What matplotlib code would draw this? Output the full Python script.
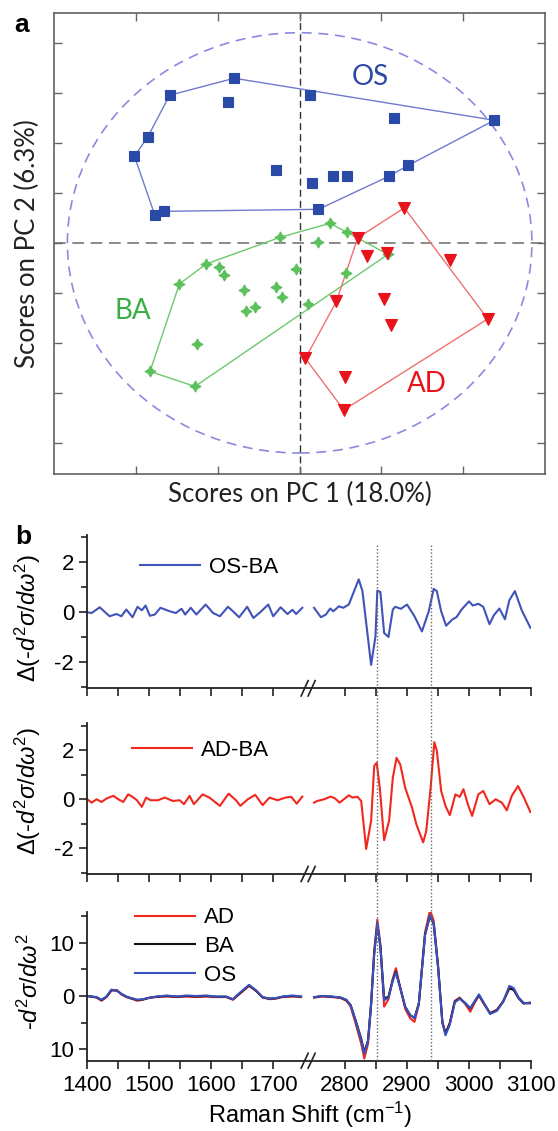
import matplotlib

matplotlib.use("Agg")
import matplotlib.pyplot as plt
import numpy as np
from matplotlib import transforms
from matplotlib.lines import Line2D
from matplotlib.patches import Ellipse

plt.rcParams["font.family"] = ["Liberation Sans", "DejaVu Sans"]
plt.rcParams["mathtext.fontset"] = "custom"
plt.rcParams["mathtext.rm"] = "Liberation Sans"
plt.rcParams["mathtext.it"] = "Liberation Sans:italic"
plt.rcParams["mathtext.bf"] = "Liberation Sans:bold"
plt.rcParams["axes.unicode_minus"] = False

# ---- panel a: PCA scores ----
os_pc1 = [-0.80, 0.13, 2.38, 1.33, 1.09, 0.23, -1.66, -1.77, -2.02, -1.86, -1.59,
          -0.88, 1.15, -0.29, 0.58, 0.41, 0.15]
os_pc2 = [3.29, 2.95, 2.45, 1.55, 1.33, 0.67, 0.63, 0.55, 1.73, 2.11, 2.95,
          2.81, 2.49, 1.46, 1.33, 1.33, 1.20]
os_hull = [0, 2, 3, 4, 5, 6, 7, 8, 9, 10, 0]

ba_pc1 = [-1.28, -1.83, -1.47, -1.14, -0.24, 0.37, 0.58, 1.08, -0.99, -0.92,
          -0.68, -0.29, -0.22, -0.65, -0.54, -1.26, -0.05, 0.22, 0.57, 0.10]
ba_pc2 = [-2.87, -2.57, -0.82, -0.42, 0.11, 0.39, 0.21, -0.23, -0.49, -0.64,
          -0.94, -0.89, -1.09, -1.37, -1.29, -2.02, -0.53, 0.01, -0.61, -1.22]
ba_hull = [0, 1, 2, 3, 4, 5, 6, 7, 0]

ad_pc1 = [1.28, 2.30, 0.54, 0.07, 0.45, 0.71, 0.82, 1.07, 1.84, 1.03, 1.12, 0.56]
ad_pc2 = [0.70, -1.52, -3.34, -2.31, -1.17, 0.10, -0.27, -0.21, -0.35, -1.13, -1.65, -2.69]
ad_hull = [0, 1, 2, 3, 4, 5, 0]

ellipse_half_axes = (2.84, 4.2)

# ---- panel b: spectra ----
osba_x_low = [1400, 1407, 1420, 1436, 1447, 1455, 1463, 1473, 1481, 1488, 1494, 1501,
              1509, 1518, 1533, 1543, 1552, 1558, 1567, 1576, 1591, 1603, 1614, 1627,
              1635, 1645, 1658, 1668, 1679, 1692, 1700, 1712, 1723, 1731, 1737, 1747]
osba_y_low = [0, -0.03, 0.2, -0.16, -0.07, -0.16, 0.11, -0.2, 0.22, 0.08, 0.27, -0.14,
              -0.09, 0.18, 0.04, -0.03, 0.14, -0.09, 0.18, -0.09, 0.31, -0.03, -0.16, 0.22,
              0.04, -0.2, 0.22, -0.23, 0, 0.31, -0.16, 0.2, -0.07, 0.1, -0.07, 0.18]
osba_x_high = [2747, 2761, 2769, 2776, 2781, 2790, 2797, 2806, 2822, 2828, 2842, 2849,
               2852, 2857, 2863, 2870, 2877, 2881, 2890, 2900, 2912, 2924, 2935, 2943,
               2948, 2955, 2963, 2973, 2980, 2988, 3000, 3006, 3015, 3023, 3033, 3040,
               3049, 3058, 3065, 3074, 3085, 3099]
osba_y_high = [0.18, -0.2, -0.09, 0.15, 0.04, 0.24, 0.18, 0.31, 1.32, 0.85, -2.11, -0.97,
               0.87, 0.81, -0.83, -0.99, 0.11, 0.22, 0.14, 0.31, -0.16, -0.77, 0.04, 0.94,
               0.85, 0.04, -0.54, -0.29, -0.19, 0.11, 0.44, 0.27, 0.34, 0.22, -0.48, -0.12,
               0.15, -0.28, 0.48, 0.85, 0.08, -0.62]

adba_x_low = [1400, 1407, 1415, 1423, 1431, 1442, 1450, 1458, 1466, 1473, 1480, 1488,
              1495, 1502, 1514, 1525, 1538, 1549, 1556, 1565, 1572, 1586, 1597, 1614,
              1628, 1640, 1647, 1659, 1671, 1683, 1694, 1707, 1720, 1729, 1738, 1747]
adba_y_low = [0, -0.14, 0, -0.11, 0.03, 0.14, 0, -0.11, 0.2, 0.1, -0.04, -0.31,
              0.07, -0.04, -0.04, 0.07, -0.07, -0.04, -0.2, 0.14, -0.2, 0.2, 0.07, -0.27,
              0.23, -0.04, -0.27, 0, 0.18, -0.24, 0.07, -0.04, 0.07, 0.1, -0.18, 0.11]
adba_x_high = [2747, 2755, 2766, 2777, 2784, 2791, 2798, 2806, 2812, 2820, 2826, 2834,
               2842, 2847, 2851, 2856, 2863, 2871, 2877, 2883, 2889, 2897, 2908, 2915,
               2926, 2931, 2938, 2944, 2948, 2955, 2962, 2969, 2978, 2985, 2991, 2998,
               3005, 3015, 3023, 3033, 3043, 3053, 3061, 3069, 3079, 3088, 3099]
adba_y_high = [-0.14, -0.07, 0, 0.11, 0.03, -0.14, 0, 0.16, 0.07, 0.1, -0.07, -2.03,
               -0.88, 1.36, 1.49, 0.47, -1.67, -0.88, 0.88, 1.69, 1.42, 0.47, -0.34, -1.02,
               -1.76, -1.29, 0.47, 2.33, 1.99, 0.34, -0.27, -0.65, 0.2, 0.1, 0.41, -0.2,
               -0.68, 0.2, 0.34, -0.2, 0, -0.14, -0.45, 0.14, 0.54, 0.1, -0.52]

spec_x_low = [1400, 1415, 1423, 1431, 1439, 1448, 1455, 1463, 1471, 1481, 1490, 1501,
              1512, 1528, 1544, 1560, 1576, 1592, 1608, 1624, 1635, 1646, 1661, 1672,
              1683, 1694, 1704, 1715, 1731, 1745]
ba_low = [0, -0.25, -0.76, -0.13, 1.14, 1.0, 0.38, -0.13, -0.44, -0.76, -0.63, -0.32,
          -0.13, 0, -0.13, 0, -0.06, 0, -0.13, -0.13, -0.63, 0.51, 2.03, 1.01,
          -0.25, -0.5, -0.44, -0.13, 0, -0.13]
ad_low = [0, -0.3, -0.9, -0.2, 1.0, 1.1, 0.3, -0.2, -0.5, -0.9, -0.7, -0.3,
          -0.2, -0.1, -0.2, -0.1, -0.2, -0.1, -0.2, -0.2, -0.7, 0.4, 1.9, 1.0,
          -0.3, -0.6, -0.5, -0.2, -0.1, -0.2]
os_low = [0, -0.2, -0.7, -0.1, 1.2, 1.0, 0.4, -0.1, -0.4, -0.7, -0.6, -0.3,
          -0.1, 0.1, -0.1, 0.1, 0, 0.1, -0.1, -0.1, -0.6, 0.6, 2.1, 1.1,
          -0.2, -0.5, -0.4, -0.1, 0.1, -0.1]

spec_x_high = [2747, 2763, 2779, 2793, 2802, 2809, 2817, 2826, 2831, 2837, 2842, 2847,
               2852, 2857, 2863, 2870, 2877, 2882, 2887, 2897, 2905, 2912, 2919, 2929,
               2937, 2943, 2950, 2957, 2962, 2969, 2977, 2985, 2994, 3002, 3009, 3016,
               3024, 3034, 3045, 3055, 3065, 3072, 3080, 3088, 3099]
ba_high = [-0.25, 0, -0.13, -0.3, -0.76, -1.71, -4.56, -8.04, -10.6, -8.35, -1.39, 8.1,
           13.5, 9.37, -0.44, -0.13, 3.04, 4.62, 2.41, -2.03, -3.6, -4.11, -1.39, 11.58,
           15.06, 13.48, 5.57, -4.87, -7.09, -5.19, -1.08, -0.44, -1.39, -2.34, -1.08, 0.19,
           -1.39, -3.29, -2.66, -1.08, 1.46, 1.14, -0.44, -1.39, -1.27]
ad_high = [-0.3, -0.1, -0.2, -0.4, -0.9, -2.0, -5.2, -9.0, -11.8, -9.0, -1.6, 8.6,
           14.4, 9.6, -2.0, -0.6, 3.3, 5.25, 2.6, -2.4, -4.2, -4.87, -1.6, 12.0,
           16.2, 14.2, 5.8, -5.1, -7.0, -5.0, -0.9, -0.3, -1.5, -2.97, -1.3, 0.1,
           -1.5, -3.2, -2.6, -1.0, 1.5, 1.3, -0.3, -1.4, -1.3]
os_high = [-0.2, 0, -0.1, -0.3, -0.7, -1.8, -4.7, -8.3, -10.9, -8.5, -1.5, 7.9,
           13.8, 9.0, -0.8, -0.3, 2.9, 4.4, 2.3, -2.0, -3.6, -4.2, -1.4, 11.4,
           15.3, 13.6, 5.4, -5.0, -7.4, -5.4, -1.2, -0.5, -1.3, -2.3, -1.0, 0.3,
           -1.3, -3.4, -2.8, -1.1, 1.9, 1.5, -0.3, -1.3, -1.4]

marker_lines = [2851, 2939]
major_x = [1400, 1500, 1600, 1700, 2800, 2900, 3000, 3100]
minor_x = [1450, 1550, 1650, 2850, 2950, 3050]

GAP_LO, GAP_HI, GAP_W = 1750.0, 2750.0, 16.0


def fwd(x):
    x = np.asarray(x, dtype=float)
    inside = GAP_LO + (x - GAP_LO) * GAP_W / (GAP_HI - GAP_LO)
    return np.where(x <= GAP_LO, x, np.where(x >= GAP_HI, x - (GAP_HI - GAP_LO) + GAP_W, inside))


def inv(y):
    y = np.asarray(y, dtype=float)
    inside = GAP_LO + (y - GAP_LO) * (GAP_HI - GAP_LO) / GAP_W
    return np.where(y <= GAP_LO, y, np.where(y >= GAP_LO + GAP_W, y + (GAP_HI - GAP_LO) - GAP_W, inside))


W, H = 558, 1131
fig = plt.figure(figsize=(W / 100, H / 100), dpi=100)


def axes_px(left, top, right, bottom):
    return fig.add_axes([left / W, 1 - bottom / H, (right - left) / W, (bottom - top) / H])


# ---------------- panel a ----------------
ax = axes_px(54.3, 12.7, 545, 474)
ax.set_xlim(-3, 3)
ax.set_ylim(-4.62, 4.6)
ax.set_xticks([-2, -1, 0, 1, 2])
ax.set_yticks([-4, -3, -2, -1, 0, 1, 2, 3, 4])
ax.tick_params(direction="in", top=True, right=True, labelbottom=False, labelleft=False,
               length=6, width=1, color="#666666")
for sp in ax.spines.values():
    sp.set_color("#555555")
    sp.set_linewidth(1.1)

ax.add_patch(Ellipse((0, 0), 2 * ellipse_half_axes[0], 2 * ellipse_half_axes[1], fill=False,
                     edgecolor="#8a8ae0", linestyle=(0, (6, 4)), linewidth=1.2, zorder=1))
ax.axhline(0, color="#777777", linestyle=(0, (7, 4)), linewidth=1.2, zorder=1)
ax.axvline(0, color="#333333", linestyle=(0, (5, 3)), linewidth=1.0, zorder=1)

groups = [
    (os_pc1, os_pc2, os_hull, "#2a4aa8", "#6f7acc", "s", 7.5, "#2a4aa8"),
    (ba_pc1, ba_pc2, ba_hull, "#5cc05c", "#6cc86c", (4, 1, 0), 8, "#5cc05c"),
    (ad_pc1, ad_pc2, ad_hull, "#e8131b", "#f07070", "v", 8, "#e8131b"),
]
for px, py, hull, mcol, lcol, mk, ms, ecol in groups:
    px = np.asarray(px)
    py = np.asarray(py)
    ax.plot(px[hull], py[hull], color=lcol, linewidth=1.0, zorder=2)
    ax.plot(px, py, linestyle="none", marker=mk, markersize=ms, color=mcol,
            markeredgecolor=ecol, markeredgewidth=0.8, zorder=3)

ax.text(0.86, 3.32, "OS", color="#2f4aa6", fontsize=20, family="Lato", ha="center", va="center")
ax.text(-2.04, -1.37, "BA", color="#3aae46", fontsize=20, family="Lato", ha="center", va="center")
ax.text(1.55, -2.82, "AD", color="#e8131b", fontsize=20, family="Lato", ha="center", va="center")

ax.set_xlabel("Scores on PC 1 (18.0%)", fontsize=18.5, family="Lato", color="#222222")
ax.set_ylabel("Scores on PC 2 (6.3%)", fontsize=18.5, family="Lato", color="#222222")
ax.xaxis.set_label_coords(0.5, -0.018)
ax.yaxis.set_label_coords(-0.03, 0.5)

fig.text(21.5 / W, 1 - 25.5 / H, "a", fontsize=19, fontweight="bold", ha="center", va="center")
fig.text(23.5 / W, 1 - 537 / H, "b", fontsize=19, fontweight="bold", ha="center", va="center")

# ---------------- panel b ----------------
b_left, b_right = 87.3, 531
ax1 = axes_px(b_left, 535, b_right, 688.3)
ax2 = axes_px(b_left, 723.3, b_right, 874)
ax3 = axes_px(b_left, 911.7, b_right, 1060.7)

dlabel = r"$\Delta(\text{-}d^2\sigma/d\omega^2)$"
for a in (ax1, ax2, ax3):
    a.set_xscale("function", functions=(fwd, inv))
    a.set_xlim(1400, 3100)
    a.set_xticks(major_x)
    a.set_xticks(minor_x, minor=True)
    a.spines["top"].set_visible(False)
    a.spines["right"].set_visible(False)
    for s in ("left", "bottom"):
        a.spines[s].set_linewidth(1.3)
        a.spines[s].set_color("#222222")
    a.tick_params(which="major", direction="out", length=6, width=1.2, labelsize=16, color="#222222")
    a.tick_params(which="minor", direction="out", length=4, width=1.2, color="#222222")
    a.tick_params(axis="x", which="both", length=6)

for a in (ax1, ax2):
    a.set_ylim(-3.05, 3.1)
    a.set_yticks([-2, 0, 2])
    a.set_yticks([-3, -1, 1, 3], minor=True)
    a.tick_params(axis="x", labelbottom=False)

ax1.plot(osba_x_low, osba_y_low, color="#4054b8", linewidth=1.5)
ax1.plot(osba_x_high, osba_y_high, color="#4054b8", linewidth=1.5, label="OS-BA")
ax2.plot(adba_x_low, adba_y_low, color="#f0281e", linewidth=1.5)
ax2.plot(adba_x_high, adba_y_high, color="#f0281e", linewidth=1.5, label="AD-BA")

ax3.set_ylim(-12.2, 15.9)
ax3.set_yticks([-10, 0, 10])
ax3.set_yticklabels(["10", "0", "10"])
ax3.set_yticks([-5, 5, 15], minor=True)
ax3.plot(spec_x_low, ad_low, color="#f0281e", linewidth=1.5)
ax3.plot(spec_x_high, ad_high, color="#f0281e", linewidth=1.5, label="AD")
ax3.plot(spec_x_low, ba_low, color="#111111", linewidth=1.5)
ax3.plot(spec_x_high, ba_high, color="#111111", linewidth=1.5, label="BA")
ax3.plot(spec_x_low, os_low, color="#3b50c0", linewidth=1.5)
ax3.plot(spec_x_high, os_high, color="#3b50c0", linewidth=1.5, label="OS")
ax3.tick_params(axis="x", pad=4)

legend_kw = dict(frameon=False, loc="center left", fontsize=16, handlelength=2.7,
                 handletextpad=0.4, borderpad=0, borderaxespad=0)
ax1.legend(bbox_to_anchor=(0.119, 0.787), **legend_kw)
ax2.legend(bbox_to_anchor=(0.100, 0.818), **legend_kw)
ax3.legend(bbox_to_anchor=(0.1075, 0.765), labelspacing=0.35, **legend_kw)

ax1.set_ylabel(dlabel, fontsize=17)
ax2.set_ylabel(dlabel, fontsize=17)
ax3.set_ylabel(r"$\text{-}d^2\sigma/d\omega^2$", fontsize=17)
ax1.yaxis.set_label_coords(-0.10, 0.46)
ax2.yaxis.set_label_coords(-0.10, 0.55)
ax3.yaxis.set_label_coords(-0.10, 0.53)
ax3.set_xlabel(r"Raman Shift (cm$^{-1}$)", fontsize=17)
ax3.xaxis.set_label_coords(0.502, -0.265)

# axis break marks
for a in (ax1, ax2, ax3):
    fx = a.transAxes.inverted().transform(a.transData.transform([[2250.0, 0.0]]))[0][0]
    px_w = 1.0 / (b_right - b_left)
    for off in (-4.5, 2.5):
        a.plot([fx + (off - 3.5) * px_w, fx + (off + 3.5) * px_w], [-0.05, 0.05],
               transform=a.transAxes, color="#222222", linewidth=1.2, clip_on=False)

# dotted guide lines through panel b
trans = transforms.blended_transform_factory(ax3.transData, fig.transFigure)
for xv in marker_lines:
    fig.add_artist(Line2D([xv, xv], [1 - 545 / H, 1 - 1062 / H], transform=trans,
                          color="#666666", linestyle=(0, (1, 1.5)), linewidth=1.0))

fig.savefig("out.png", dpi=100)
